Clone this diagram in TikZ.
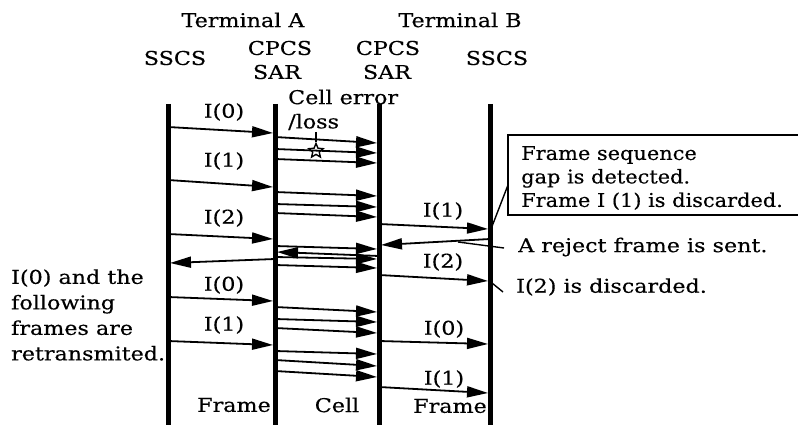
\documentclass[tikz,border=0pt]{standalone}
\usepackage{fontspec}
\setmainfont{DejaVu Serif}[FakeStretch=1.17,FakeBold=0.4]
\newfontfamily\boxfont{DejaVu Serif}[FakeStretch=1.1,FakeBold=0.4]
\usetikzlibrary{arrows.meta,shapes.geometric}
\tikzset{
  txt/.style={inner sep=0pt, font=\fontsize{19}{24}\selectfont},
  life/.style={line width=5pt},
  msg/.style={line width=1.8pt, -{Triangle[length=21pt,width=11pt]}},
  ptr/.style={line width=1.4pt},
}
\newcommand{\fm}[4]{\draw[msg] (#1,#2) -- (#3,#4);}
\begin{document}
\begin{tikzpicture}[x=1pt,y=-1pt]
\useasboundingbox (0,0) rectangle (798,425);
% headers
\node[txt] (termA) at (243,20) {Terminal A};
\node[txt] (termB) at (460,20) {Terminal B};
\node[txt] (cpcsA) at (280,48) {CPCS};
\node[txt] (sarA) at (277,72) {SAR};
\node[txt] (cpcsB) at (388,48) {CPCS};
\node[txt] (sarB) at (387,72) {SAR};
\node[txt] (sscsA) at (175,58) {SSCS};
\node[txt] (sscsB) at (497,58) {SSCS};
% lifelines
\coordinate (LA1) at (168,104); \coordinate (LA1b) at (168,425);
\coordinate (LA2) at (275,104); \coordinate (LA2b) at (275,425);
\coordinate (LB2) at (379,104); \coordinate (LB2b) at (379,425);
\coordinate (LB1) at (490,104); \coordinate (LB1b) at (490,425);
\draw[life] (LA1) -- (LA1b);
\draw[life] (LA2) -- (LA2b);
\draw[life] (LB2) -- (LB2b);
\draw[life] (LB1) -- (LB1b);
% frames SSCS A -> CPCS A
\fm{168}{127}{273}{133}
\fm{168}{180}{273}{187}
\fm{168}{234}{273}{239}
\fm{168}{297}{273}{301}
\fm{168}{341}{273}{345}
% reject frame to SSCS A
\fm{275}{259}{170}{263}
% cells CPCS A -> CPCS B
\fm{275}{137}{377}{143}
\fm{275}{149}{377}{153}
\fm{275}{159}{377}{163}
\fm{275}{192}{377}{196}
\fm{275}{204}{377}{207}
\fm{275}{213}{377}{217}
\fm{275}{246}{377}{249}
\fm{275}{257}{377}{259}
\fm{275}{265}{377}{268}
\fm{379}{256}{277}{252}
\fm{275}{307}{377}{312}
\fm{275}{319}{377}{322}
\fm{275}{328}{377}{333}
\fm{275}{351}{377}{354}
\fm{275}{360}{377}{366}
\fm{275}{371}{377}{377}
% frames CPCS B -> SSCS B
\fm{379}{224}{488}{229}
\fm{490}{239}{381}{245}
\fm{379}{275}{488}{281}
\fm{379}{341}{488}{344}
\fm{379}{387}{488}{393}
% frame labels
\node[txt] (la0) at (224,112) {I(0)};
\node[txt] (la1) at (224,161) {I(1)};
\node[txt] (la2) at (224,218) {I(2)};
\node[txt] (la3) at (224,285) {I(0)};
\node[txt] (la4) at (224,325) {I(1)};
\node[txt] (lb1) at (443,211) {I(1)};
\node[txt] (lb2) at (443,262) {I(2)};
\node[txt] (lb3) at (444,329) {I(0)};
\node[txt] (lb4) at (444,379) {I(1)};
\node[txt] (frA) at (234,405) {Frame};
\node[txt] (cell) at (337,405) {Cell};
\node[txt] (frB) at (450,406) {Frame};
% cell error
\node[txt, anchor=west] (err1) at (288,97) {Cell error};
\node[txt, anchor=west] (err2) at (288,122) {/loss};
\node[star, star points=5, star point ratio=2.2, draw, line width=1.4pt, minimum size=15pt, inner sep=0pt] (star) at (316,151) {};
\draw[ptr] (316,132) -- (star.north);
% callout box
\draw[ptr] (798,135) -- (508,135) -- (508,215) -- (798,215);
\node[txt, anchor=west, align=left, font=\boxfont\fontsize{19}{23.5}\selectfont] (box) at (521,178) {Frame sequence\\gap is detected.\\Frame I (1) is discarded.};
\draw[ptr] (508,185) -- (491,229);
\node[txt, anchor=west] (rej) at (518,247) {A reject frame is sent.};
\draw[ptr] (504,248) -- (458,242);
\node[txt, anchor=west] (dis) at (516,287) {I(2) is discarded.};
\draw[ptr] (503,292) -- (492,283);
\node[txt, anchor=west, align=left, font=\fontsize{19}{25.5}\selectfont] (retx) at (11,315) {I(0) and the\\following\\frames are\\retransmited.};
\end{tikzpicture}
\end{document}
